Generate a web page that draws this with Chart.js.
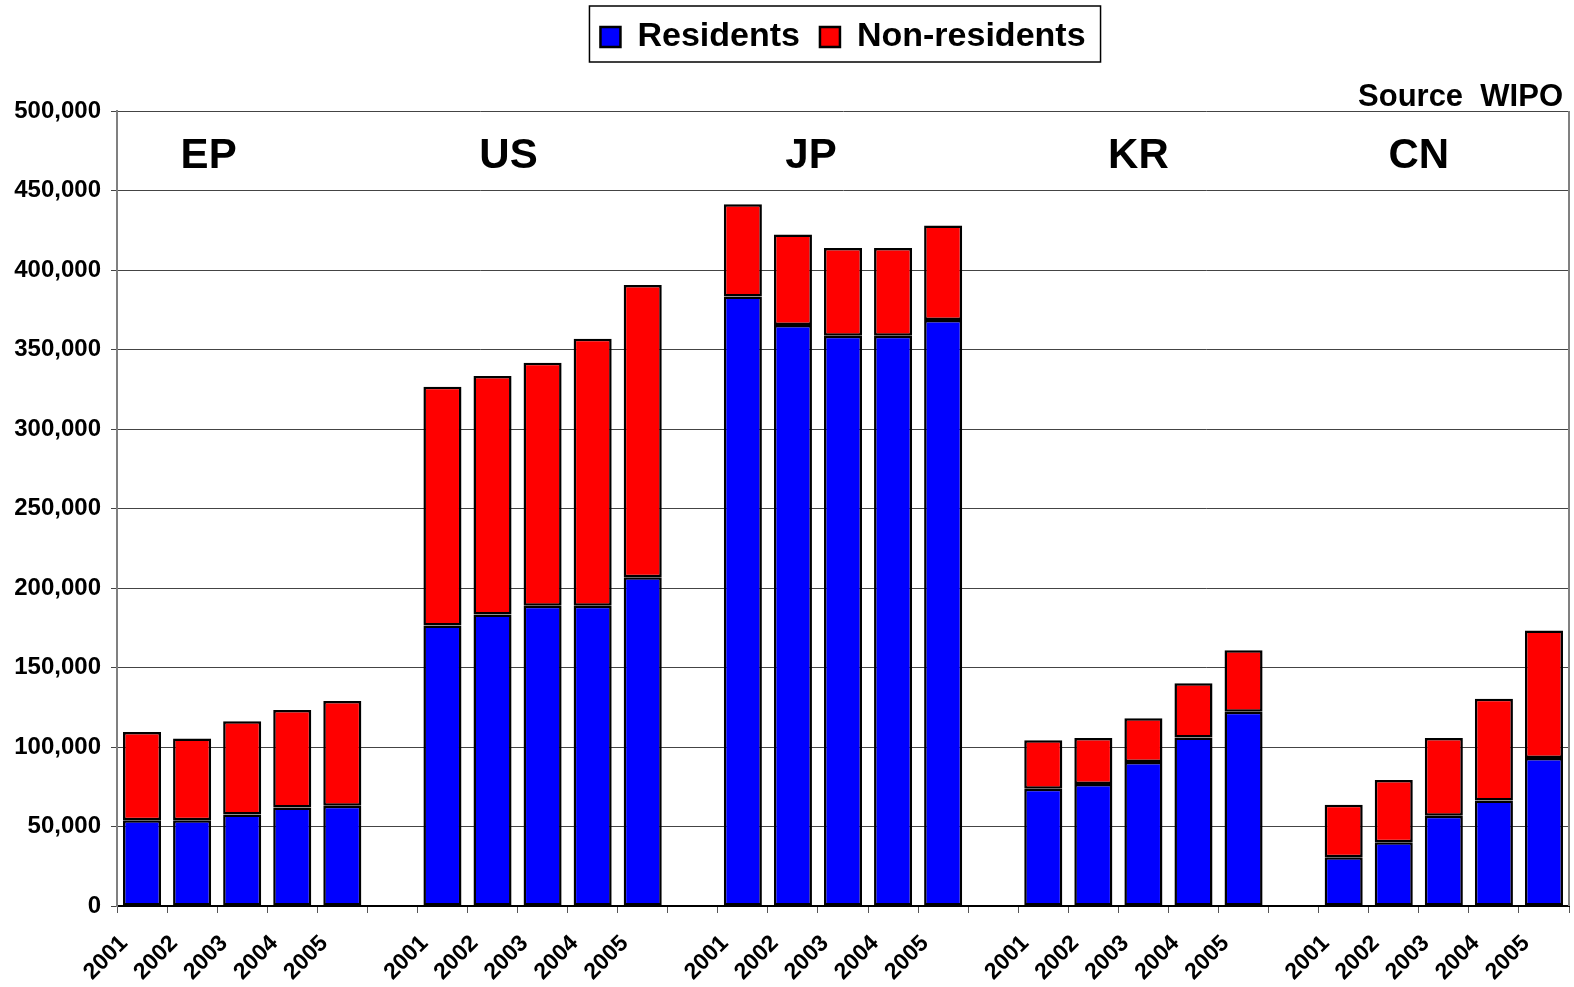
<!DOCTYPE html>
<html>
<head>
<meta charset="utf-8">
<title>Patent filings - residents and non-residents</title>
<script src="https://cdn.jsdelivr.net/npm/chart.js@4.4.0/dist/chart.umd.min.js"></script>
<style>
  html, body { margin: 0; padding: 0; background: #fff; }
  #wrap { width: 1574px; height: 987px; }
</style>
</head>
<body>
<div id="wrap"><canvas id="patentChart" width="1574" height="987"></canvas></div>
<script>
// Datos
var offices = ['EP', 'US', 'JP', 'KR', 'CN'];
var years = ['2001', '2002', '2003', '2004', '2005'];

var residentsEP = [54000, 54000, 57500, 62000, 63000];
var nonResidentsEP = [55500, 51300, 58700, 61200, 65900];
var residentsUS = [176400, 183400, 188800, 188800, 206800];
var nonResidentsUS = [150100, 149900, 152900, 168000, 183700];
var residentsJP = [383300, 365400, 358700, 358700, 368600];
var nonResidentsJP = [58000, 56900, 55200, 55200, 59400];
var residentsKR = [73700, 76700, 90500, 105900, 122100];
var nonResidentsKR = [30500, 29000, 27600, 34200, 38800];
var residentsCN = [30700, 40100, 56700, 66400, 93100];
var nonResidentsCN = [33000, 39100, 49000, 63900, 80200];

var yTicks = [0, 50000, 100000, 150000, 200000, 250000, 300000, 350000, 400000, 450000, 500000];
var sourceText = 'Source  WIPO';

// Construir etiquetas y series con un hueco entre oficinas
var residentsByOffice = [residentsEP, residentsUS, residentsJP, residentsKR, residentsCN];
var nonResidentsByOffice = [nonResidentsEP, nonResidentsUS, nonResidentsJP, nonResidentsKR, nonResidentsCN];
var labels = [];
var residentsData = [];
var nonResidentsData = [];
offices.forEach(function(office, i) {
    if (i > 0) {
        labels.push('');
        residentsData.push(null);
        nonResidentsData.push(null);
    }
    years.forEach(function(year, j) {
        labels.push(year);
        residentsData.push(residentsByOffice[i][j]);
        nonResidentsData.push(nonResidentsByOffice[i][j]);
    });
});

var fontFamily = "'Liberation Sans', Arial, Helvetica, sans-serif";
Chart.defaults.font.family = fontFamily;
Chart.defaults.color = '#000';

// Leyenda con altura fija y recuadro, textos extra sobre el gráfico
var decorPlugin = {
    id: 'decor',
    beforeInit: function(chart) {
        var origFit = chart.legend.fit;
        chart.legend.fit = function() {
            origFit.call(this);
            this.height = 111;
        };
    },
    afterDraw: function(chart) {
        var ctx = chart.ctx;
        var area = chart.chartArea;
        var x = chart.scales.x;
        ctx.save();

        // recuadro de la leyenda
        var boxes = chart.legend.legendHitBoxes;
        if (boxes && boxes.length) {
            var left = Math.min.apply(null, boxes.map(function(b) { return b.left; }));
            var right = Math.max.apply(null, boxes.map(function(b) { return b.left + b.width; }));
            ctx.strokeStyle = '#000';
            ctx.lineWidth = 1.5;
            ctx.strokeRect(left - 11, 6, right - left + 26, 56);
        }

        // borde derecho del área
        ctx.strokeStyle = '#808080';
        ctx.lineWidth = 2;
        ctx.beginPath();
        ctx.moveTo(area.right, area.top);
        ctx.lineTo(area.right, area.bottom);
        ctx.stroke();

        // fuente
        ctx.fillStyle = '#000';
        ctx.font = 'bold 31px ' + fontFamily;
        ctx.textAlign = 'right';
        ctx.textBaseline = 'alphabetic';
        ctx.fillText(sourceText, area.right - 6, area.top - 5);

        // nombres de las oficinas
        var groupPos = [1.33, 7.32, 13.36, 19.9, 25.5];
        ctx.font = 'bold 42px ' + fontFamily;
        ctx.textAlign = 'center';
        ctx.textBaseline = 'middle';
        offices.forEach(function(office, i) {
            ctx.fillText(office, x.getPixelForValue(groupPos[i]), area.top + 45);
        });
        ctx.restore();
    }
};

document.addEventListener('DOMContentLoaded', function() {
    var ctx = document.getElementById('patentChart').getContext('2d');

    var data = {
        labels: labels,
        datasets: [{
            label: 'Residents',
            data: residentsData,
            backgroundColor: 'rgb(0, 0, 255)',
            borderColor: '#000',
            borderWidth: 2.5,
            borderSkipped: false,
            inflateAmount: 0
        }, {
            label: 'Non-residents',
            data: nonResidentsData,
            backgroundColor: 'rgb(255, 0, 0)',
            borderColor: '#000',
            borderWidth: 2.5,
            borderSkipped: false,
            inflateAmount: 0
        }]
    };

    var options = {
        responsive: false,
        animation: false,
        layout: { padding: { left: 0, right: 5, top: 0, bottom: 0 } },
        datasets: { bar: { categoryPercentage: 1, barPercentage: 0.76 } },
        plugins: {
            legend: {
                position: 'top',
                fullSize: false,
                labels: {
                    font: { size: 34, weight: 'bold' },
                    color: '#000',
                    boxWidth: 20,
                    boxHeight: 20,
                    padding: 20
                }
            },
            tooltip: { enabled: false }
        },
        scales: {
            x: {
                stacked: true,
                grid: { drawOnChartArea: false, drawTicks: true, tickLength: 7, color: '#555', offset: true },
                border: { color: '#000', width: 2 },
                ticks: {
                    autoSkip: false,
                    maxRotation: 45,
                    minRotation: 45,
                    labelOffset: -18,
                    padding: 17,
                    font: { size: 23, weight: 'bold' },
                    color: '#000'
                },
                afterFit: function(s) {
                    s.height = 81;
                    s.paddingLeft = 0;
                    s.paddingRight = 0;
                }
            },
            y: {
                stacked: true,
                min: yTicks[0],
                max: yTicks[yTicks.length - 1],
                ticks: {
                    stepSize: yTicks[1] - yTicks[0],
                    font: { size: 24, weight: 'bold' },
                    color: '#000',
                    padding: 10,
                    callback: function(v) { return v.toLocaleString('en-US'); }
                },
                grid: { color: '#444', tickLength: 6 },
                border: { color: '#808080', width: 2 },
                afterFit: function(s) { s.width = 117; }
            }
        }
    };

    var patentChart = new Chart(ctx, {
        type: 'bar',
        data: data,
        options: options,
        plugins: [decorPlugin]
    });
});
</script>
</body>
</html>
